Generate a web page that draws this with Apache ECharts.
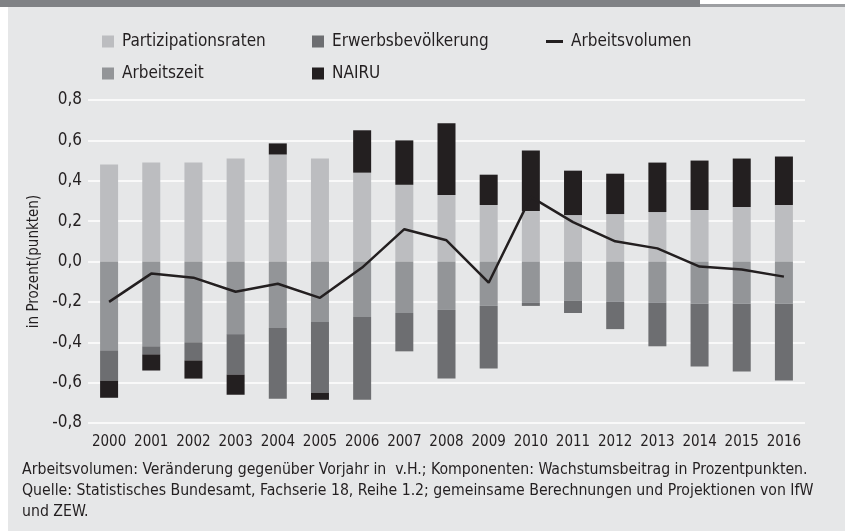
<!DOCTYPE html>
<html lang="de">
<head>
    <meta charset="UTF-8">
    <title>Arbeitsvolumen</title>
    <script src="https://cdn.jsdelivr.net/npm/echarts@6/dist/echarts.min.js"></script>
    <style>
        html, body { margin: 0; padding: 0; background: #fff; }
        #main { width: 845px; height: 531px; }
    </style>
</head>
<body>
<div id="main"></div>

<script type="text/javascript">
    // Jahre und Komponenten (Prozentpunkte)
    var years = ['2000', '2001', '2002', '2003', '2004', '2005', '2006', '2007', '2008',
                 '2009', '2010', '2011', '2012', '2013', '2014', '2015', '2016'];
    var partizipation = [0.48, 0.49, 0.49, 0.51, 0.53, 0.51, 0.44, 0.38, 0.33,
                         0.28, 0.25, 0.23, 0.235, 0.245, 0.255, 0.27, 0.28];
    var arbeitszeit = [-0.44, -0.42, -0.40, -0.36, -0.33, -0.30, -0.275, -0.255, -0.24,
                       -0.22, -0.205, -0.195, -0.20, -0.205, -0.21, -0.21, -0.21];
    var erwerbs = [-0.15, -0.04, -0.09, -0.20, -0.35, -0.35, -0.41, -0.19, -0.34,
                   -0.31, -0.015, -0.06, -0.135, -0.215, -0.31, -0.335, -0.38];
    var nairu = [-0.085, -0.08, -0.09, -0.10, 0.055, -0.035, 0.21, 0.22, 0.355,
                 0.15, 0.30, 0.22, 0.20, 0.245, 0.245, 0.24, 0.24];
    var arbeitsvolumen = [-0.20, -0.06, -0.08, -0.15, -0.11, -0.18, -0.03, 0.16, 0.105,
                          -0.105, 0.32, 0.195, 0.10, 0.065, -0.025, -0.04, -0.075];

    var font = '"Liberation Sans Narrow", "DejaVu Sans Condensed", sans-serif';
    var ink = '#231f20';

    var myChart = echarts.init(document.getElementById('main'));

    function legendAt(name, left, top, w, h) {
        return {
            data: [name],
            left: left,
            top: top,
            icon: 'rect',
            itemWidth: w || 12,
            itemHeight: h || 12,
            textStyle: { fontFamily: font, fontSize: 17, color: ink, padding: [0, 0, 0, 3] }
        };
    }

    var option = {
        backgroundColor: '#e6e7e8',
        animation: false,
        textStyle: { fontFamily: font },
        legend: [
            legendAt('Partizipationsraten', 97, 28),
            legendAt('Erwerbsbevölkerung', 307, 28),
            legendAt('Arbeitsvolumen', 541, 28, 17, 3),
            legendAt('Arbeitszeit', 97, 60),
            legendAt('NAIRU', 307, 60)
        ],
        grid: { left: 88, right: 40, top: 100, bottom: 108 },
        xAxis: {
            type: 'category',
            data: years,
            axisLine: { show: false },
            axisTick: { show: false },
            axisLabel: { color: ink, fontSize: 15, fontFamily: font, margin: 12, interval: 0 }
        },
        yAxis: {
            type: 'value',
            min: -0.8,
            max: 0.8,
            interval: 0.2,
            name: 'in Prozent(punkten)',
            nameLocation: 'middle',
            nameGap: 37,
            nameTextStyle: { color: ink, fontSize: 15, fontFamily: font },
            axisLine: { show: false },
            axisTick: { show: false },
            splitLine: { lineStyle: { color: '#ffffff', width: 1.5 } },
            axisLabel: {
                color: ink, fontSize: 17, fontFamily: font, margin: 6,
                formatter: function (v) { return v.toFixed(1).replace('.', ','); }
            }
        },
        series: [
            { name: 'Partizipationsraten', type: 'bar', stack: 'k', barWidth: 18,
              itemStyle: { color: '#bcbdc0' }, data: partizipation },
            { name: 'Arbeitszeit', type: 'bar', stack: 'k',
              itemStyle: { color: '#939598' }, data: arbeitszeit },
            { name: 'Erwerbsbevölkerung', type: 'bar', stack: 'k',
              itemStyle: { color: '#6d6e71' }, data: erwerbs },
            { name: 'NAIRU', type: 'bar', stack: 'k',
              itemStyle: { color: ink }, data: nairu },
            { name: 'Arbeitsvolumen', type: 'line', showSymbol: false, symbol: 'none', z: 5,
              itemStyle: { color: ink },
              lineStyle: { color: ink, width: 2.5 }, data: arbeitsvolumen }
        ],
        graphic: [
            { type: 'rect', shape: { x: 0, y: 0, width: 700, height: 7 }, style: { fill: '#808285' } },
            { type: 'rect', shape: { x: 700, y: 0, width: 145, height: 4 }, style: { fill: '#ffffff' } },
            { type: 'rect', shape: { x: 700, y: 4, width: 145, height: 3 }, style: { fill: '#9d9fa2' } },
            { type: 'rect', shape: { x: 0, y: 7, width: 8, height: 524 }, style: { fill: '#ffffff' } },
            {
                type: 'text', left: 22, top: 459,
                style: {
                    text: 'Arbeitsvolumen: Veränderung gegenüber Vorjahr in  v.H.; Komponenten: Wachstumsbeitrag in Prozentpunkten.\n' +
                          'Quelle: Statistisches Bundesamt, Fachserie 18, Reihe 1.2; gemeinsame Berechnungen und Projektionen von IfW\n' +
                          'und ZEW.',
                    fill: ink, font: '15.7px ' + font, lineHeight: 21
                }
            }
        ]
    };
    myChart.setOption(option);
</script>
</body>
</html>
